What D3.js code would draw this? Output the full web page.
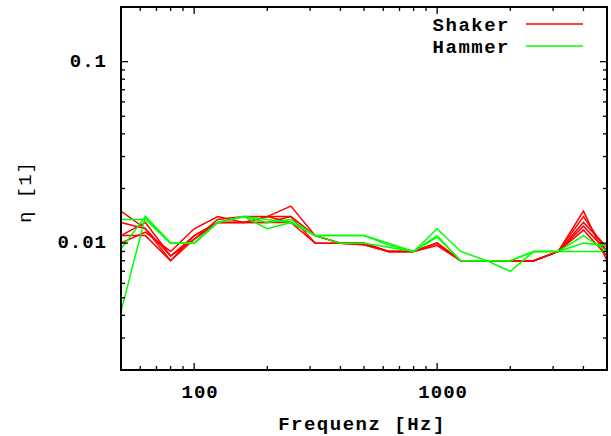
<!DOCTYPE html>
<html><head><meta charset="utf-8">
<script src="https://cdn.jsdelivr.net/npm/d3@7"></script>
<style>
html,body{margin:0;padding:0;background:#fff;}
text{font-family:"Liberation Mono","DejaVu Sans Mono",monospace;font-weight:bold;}
</style></head>
<body><svg id="c" width="611" height="436"></svg>
<script>
const freqs = [50,63,80,100,125,160,200,250,315,400,500,630,800,1000,1250,1600,2000,2500,3150,4000,5000];
const shaker1 = [0.015,0.012,0.008,0.011,0.013,0.013,0.014,0.016,0.011,0.010,0.010,0.009,0.009,0.010,0.008,0.008,0.008,0.008,0.009,0.015,0.008];
const shaker2 = [0.013,0.012,0.0085,0.011,0.013,0.013,0.013,0.014,0.010,0.010,0.010,0.009,0.009,0.010,0.008,0.008,0.008,0.008,0.009,0.014,0.009];
const shaker3 = [0.011,0.011,0.008,0.0105,0.0135,0.014,0.014,0.014,0.011,0.010,0.0098,0.009,0.009,0.0097,0.008,0.008,0.008,0.008,0.009,0.013,0.0095];
const shaker4 = [0.010,0.0115,0.009,0.012,0.014,0.013,0.013,0.013,0.010,0.010,0.010,0.009,0.009,0.010,0.008,0.008,0.008,0.008,0.009,0.0124,0.009];
const shaker5 = [0.011,0.013,0.0085,0.0105,0.013,0.013,0.014,0.013,0.011,0.010,0.0098,0.009,0.009,0.010,0.008,0.008,0.008,0.008,0.009,0.0118,0.0085];
const hammer1 = [0.0135,0.0135,0.010,0.010,0.013,0.014,0.013,0.0135,0.011,0.011,0.011,0.010,0.009,0.012,0.009,0.008,0.008,0.009,0.009,0.011,0.009];
const hammer2 = [0.0093,0.014,0.010,0.010,0.013,0.014,0.012,0.013,0.011,0.010,0.010,0.0095,0.009,0.011,0.008,0.008,0.008,0.009,0.009,0.010,0.0097];
const hammer3 = [0.0042,0.014,0.010,0.010,0.013,0.014,0.0135,0.013,0.011,0.011,0.011,0.0098,0.009,0.0108,0.008,0.008,0.007,0.009,0.009,0.009,0.009];
const xTickLabels = [100,1000];
const yTickLabels = [0.01,0.1];
const seriesNames = ["Shaker","Hammer"];
const seriesColors = ["#ff0000","#00ff00"];

const W=611,H=436, m={l:121,r:4,t:7,b:66};
const svg=d3.select("#c");
const x=d3.scaleLog().domain([50,5000]).range([m.l,W-m.r]);
const y=d3.scaleLog().domain([0.002,0.2]).range([H-m.b,m.t]);

const g=svg.append("g");
const line=d3.line().x((d,i)=>x(freqs[i])).y(d=>y(d));
svg.append("clipPath").attr("id","cp").append("rect")
  .attr("x",m.l).attr("y",m.t).attr("width",W-m.l-m.r).attr("height",H-m.t-m.b);
const groups=[[shaker1,shaker2,shaker3,shaker4,shaker5],[hammer1,hammer2,hammer3]];
groups.forEach((grp,gi)=>{
  grp.forEach(s=>{
    g.append("path").attr("d",line(s)).attr("fill","none")
     .attr("stroke",seriesColors[gi]).attr("stroke-width",1.5).attr("clip-path","url(#cp)");
  });
});

// ticks
const xMinor=[];
[10,100,1000].forEach(b=>{for(let k=1;k<10;k++){const v=b*k;if(v>=50&&v<=5000)xMinor.push(v);}});
const yMinor=[];
[0.001,0.01,0.1].forEach(b=>{for(let k=1;k<10;k++){const v=b*k;if(v>=0.002&&v<=0.2)yMinor.push(v);}});
const isMajor=v=>Math.abs(Math.log10(v)-Math.round(Math.log10(v)))<1e-6;
const tk=svg.append("g").attr("stroke","#000").attr("stroke-width",1.3);
xMinor.forEach(v=>{
  const L=isMajor(v)?7:4;
  tk.append("line").attr("x1",x(v)).attr("x2",x(v)).attr("y1",H-m.b).attr("y2",H-m.b-L);
  tk.append("line").attr("x1",x(v)).attr("x2",x(v)).attr("y1",m.t).attr("y2",m.t+L);
});
yMinor.forEach(v=>{
  const L=isMajor(v)?7:4;
  tk.append("line").attr("y1",y(v)).attr("y2",y(v)).attr("x1",m.l).attr("x2",m.l+L);
  tk.append("line").attr("y1",y(v)).attr("y2",y(v)).attr("x1",W-m.r).attr("x2",W-m.r-L);
});
// frame
svg.append("rect").attr("x",m.l).attr("y",m.t).attr("width",W-m.l-m.r).attr("height",H-m.t-m.b)
  .attr("fill","none").attr("stroke","#000").attr("stroke-width",2);

const fs=19;
xTickLabels.forEach(v=>{
  svg.append("text").attr("x",x(v)+6).attr("y",398).attr("text-anchor","middle")
   .attr("font-size",fs).attr("letter-spacing",1).text(v);
});
yTickLabels.forEach(v=>{
  svg.append("text").attr("x",107).attr("y",y(v)+5).attr("text-anchor","end")
   .attr("font-size",fs).attr("letter-spacing",1).text(v);
});
svg.append("text").attr("x",362).attr("y",430).attr("text-anchor","middle")
  .attr("font-size",fs).attr("letter-spacing",1.5).text("Frequenz [Hz]");
svg.append("text").attr("transform","translate(31,192) rotate(-90)").attr("text-anchor","middle")
  .attr("font-size",fs).style("font-weight","normal").attr("letter-spacing",1).text("η [1]");

// legend
seriesNames.forEach((n,i)=>{
  const yy=24+i*22;
  svg.append("text").attr("x",510).attr("y",yy+7).attr("text-anchor","end")
    .attr("font-size",fs).attr("letter-spacing",1.5).text(n);
  svg.append("line").attr("x1",526).attr("x2",583).attr("y1",yy).attr("y2",yy)
    .attr("stroke",seriesColors[i]).attr("stroke-width",1.5);
});
</script></body></html>
